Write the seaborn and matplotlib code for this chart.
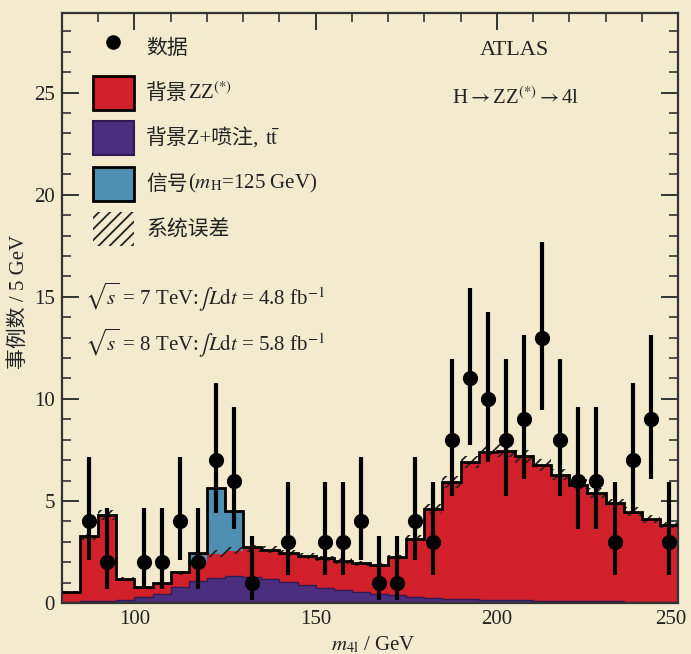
"""
H→ZZ(*)→4l 四轻子不变质量分布（ATLAS 风格）复现
运行：python3 plot.py  ->  out.png
"""
import matplotlib
matplotlib.use("Agg")
import matplotlib.pyplot as plt
import numpy as np
import pandas as pd
import seaborn as sns
from matplotlib.lines import Line2D
from matplotlib.patches import Patch
from matplotlib.ticker import MultipleLocator
from matplotlib.transforms import ScaledTranslation

# ---- 数据（每 5 GeV 一个 bin，80–250 GeV） ----
BIN_LO, BIN_HI, BIN_WIDTH = 80, 250, 5

# 背景 Z+喷注, tt̄（最下层）
ZJETS = np.array([
    0.07, 0.08, 0.10, 0.15, 0.31, 0.45, 0.80, 1.08, 1.24, 1.33,
    1.28, 1.20, 1.04, 0.90, 0.75, 0.66, 0.55, 0.45, 0.38, 0.31,
    0.24, 0.21, 0.18, 0.16, 0.14, 0.13, 0.12, 0.11, 0.10, 0.09,
    0.08, 0.07, 0.06, 0.06,
])
# 背景 ZZ(*)
ZZ = np.array([
    0.45, 3.22, 4.20, 1.03, 0.46, 0.53, 0.69, 0.87, 1.18, 1.23,
    1.38, 1.40, 1.40, 1.40, 1.43, 1.40, 1.40, 1.41, 1.85, 2.84,
    4.35, 5.71, 6.72, 7.24, 7.31, 7.05, 6.63, 6.17, 5.70, 5.29,
    4.82, 4.41, 4.06, 3.76,
])
# 信号 mH = 125 GeV
SIGNAL = np.array([
    0.00, 0.00, 0.00, 0.00, 0.00, 0.00, 0.03, 0.52, 3.20, 1.96,
    0.08, 0.00, 0.00, 0.00, 0.00, 0.00, 0.00, 0.00, 0.00, 0.00,
    0.00, 0.00, 0.00, 0.00, 0.00, 0.00, 0.00, 0.00, 0.00, 0.00,
    0.00, 0.00, 0.00, 0.00,
])
# 系统误差（背景总和的半宽）
SYST = np.array([
    0.05, 0.20, 0.25, 0.08, 0.06, 0.07, 0.10, 0.13, 0.16, 0.17,
    0.17, 0.17, 0.16, 0.15, 0.14, 0.13, 0.13, 0.12, 0.14, 0.18,
    0.24, 0.28, 0.30, 0.32, 0.32, 0.30, 0.28, 0.27, 0.25, 0.23,
    0.21, 0.20, 0.18, 0.17,
])

# 数据点（只画非零 bin）
DATA_M = np.array([
    87.5, 92.5, 102.5, 107.5, 112.5, 117.5, 122.5, 127.5, 132.5, 142.5,
    152.5, 157.5, 162.5, 167.5, 172.5, 177.5, 182.5, 187.5, 192.5, 197.5,
    202.5, 207.5, 212.5, 217.5, 222.5, 227.5, 232.5, 237.5, 242.5, 247.5,
])
DATA_N = np.array([
    4, 2, 2, 2, 4, 2, 7, 6, 1, 3,
    3, 3, 4, 1, 1, 4, 3, 8, 11, 10,
    8, 9, 13, 8, 6, 6, 3, 7, 9, 3,
])
DATA_LO = np.array([
    2.09, 0.71, 0.71, 0.71, 2.09, 0.71, 4.42, 3.62, 0.17, 1.37,
    1.37, 1.37, 2.09, 0.17, 0.17, 2.09, 1.37, 5.23, 7.73, 6.89,
    5.23, 6.06, 9.44, 5.23, 3.62, 3.62, 1.37, 4.42, 6.06, 1.37,
])
DATA_HI = np.array([
    7.16, 4.64, 4.64, 4.64, 7.16, 4.64, 10.77, 9.58, 3.30, 5.92,
    5.92, 5.92, 7.16, 3.30, 3.30, 7.16, 5.92, 11.95, 15.42, 14.27,
    11.95, 13.11, 17.70, 11.95, 9.58, 9.58, 5.92, 10.77, 13.11, 5.92,
])

# 图例：中文部分用普通文本，公式部分紧接其后
LEGEND_CN = ["数据", "背景", "背景Z+喷注,", "信号", "系统误差"]
LEGEND_MATH = [None, "ZZ$^{(*)}$", r"t$\bar{\mathrm{t}}$", r"($m_{\mathrm{H}}$=125 GeV)", None]

BG_COLOR = "#F4EBCF"
RED = "#D2202A"
PURPLE = "#4B2E7E"
PURPLE_EDGE = "#2E1A55"
BLUE = "#4F90B2"
INK = "#222222"


def setup_plot() -> None:
    sns.set_theme(style="ticks")
    plt.rcParams.update(
        {
            "font.family": ["Liberation Serif", "Noto Sans CJK SC"],
            "mathtext.fontset": "stix",
            "axes.unicode_minus": False,
            "hatch.linewidth": 1.3,
            "hatch.color": INK,
            "figure.facecolor": BG_COLOR,
            "axes.facecolor": BG_COLOR,
            "savefig.facecolor": BG_COLOR,
        }
    )


def main() -> None:
    setup_plot()
    edges = np.arange(BIN_LO, BIN_HI + BIN_WIDTH, BIN_WIDTH)
    centers = edges[:-1] + BIN_WIDTH / 2

    fig = plt.figure(figsize=(6.91, 6.54), dpi=100)
    ax = fig.add_axes([62 / 691, 1 - 603 / 654, 616 / 691, 590 / 654])

    # 堆叠直方图：seaborn 的 stack 把 hue_order 中最后一项放在最下面
    comp = pd.DataFrame(
        {
            "m4l": np.tile(centers, 3),
            "events": np.concatenate([SIGNAL, ZZ, ZJETS]),
            "component": np.repeat(["signal", "zz", "zjets"], len(centers)),
        }
    )
    sns.histplot(
        data=comp, x="m4l", weights="events", hue="component",
        hue_order=["signal", "zz", "zjets"],
        palette={"signal": BLUE, "zz": RED, "zjets": PURPLE},
        bins=edges.tolist(), multiple="stack", element="step", fill=True,
        alpha=1, linewidth=0, legend=False, ax=ax,
    )

    ax.stairs(ZJETS, edges, baseline=None, color=PURPLE_EDGE, linewidth=1.0, zorder=2)

    # 系统误差带
    bg = ZJETS + ZZ
    lo = np.append(bg - SYST, (bg - SYST)[-1])
    hi = np.append(bg + SYST, (bg + SYST)[-1])
    ax.fill_between(
        edges, lo, hi, step="post", facecolor="none", edgecolor=INK,
        hatch="///", linewidth=0, zorder=3,
    )

    total = bg + SIGNAL
    ax.stairs(total, edges, baseline=None, color="black", linewidth=2.0, zorder=4)

    # 数据点 + Poisson 误差
    ax.errorbar(
        DATA_M, DATA_N, yerr=[DATA_N - DATA_LO, DATA_HI - DATA_N],
        fmt="none", ecolor="black", elinewidth=3.0, capsize=0, zorder=5,
    )
    sns.scatterplot(x=DATA_M, y=DATA_N, color="black", s=120, linewidth=0, ax=ax, zorder=6)

    # 坐标轴
    ax.set_xlim(BIN_LO, BIN_HI)
    ax.set_ylim(0, 28.9)
    ax.xaxis.set_major_locator(MultipleLocator(50))
    ax.xaxis.set_minor_locator(MultipleLocator(10))
    ax.yaxis.set_major_locator(MultipleLocator(5))
    ax.yaxis.set_minor_locator(MultipleLocator(1))
    ax.tick_params(which="both", direction="in", top=True, right=True,
                   colors="#333333", labelcolor=INK, labelsize=15)
    ax.tick_params(which="major", length=12, width=1.4, pad=5)
    ax.tick_params(which="minor", length=6.5, width=1.2)
    for sp in ax.spines.values():
        sp.set_color("#333333")
        sp.set_linewidth(1.6)

    # 最右的 250 稍向左移，免得被图边裁掉
    fig.canvas.draw()
    last = [t for t in ax.get_xticklabels() if t.get_text() == "250"]
    for t in last:
        t.set_transform(t.get_transform() + ScaledTranslation(-5 / 72, 0, fig.dpi_scale_trans))

    ax.set_xlabel(r"$m_{\mathrm{4l}}$ / GeV", fontsize=15, color=INK)
    ax.set_ylabel("事例数 / 5 GeV", fontsize=15, color=INK)
    ax.xaxis.set_label_coords(0.506, -0.053)
    ax.yaxis.set_label_coords(-0.054, 0.51)

    # 图例
    handles = [
        Line2D([], [], marker="o", ls="none", color="black", markersize=9.5),
        Patch(facecolor=RED, edgecolor="black", linewidth=2),
        Patch(facecolor=PURPLE, edgecolor=PURPLE_EDGE, linewidth=1.5),
        Patch(facecolor=BLUE, edgecolor="black", linewidth=2),
        Patch(facecolor="none", edgecolor=INK, hatch="///", linewidth=0),
    ]
    leg = ax.legend(
        handles, LEGEND_CN, loc="upper left", bbox_to_anchor=(0.0503, 0.9712),
        frameon=False, fontsize=15, handlelength=1.95, handleheight=2.13,
        labelspacing=0.56, handletextpad=0.6, borderpad=0, borderaxespad=0,
        labelcolor=INK,
    )
    for txt, extra in zip(leg.get_texts(), LEGEND_MATH):
        if extra is None:
            continue
        pad = 4 if extra.startswith("t$") else 0
        ax.annotate(
            extra, xy=(1, 0), xycoords=txt, xytext=(pad, 0), textcoords="offset points",
            ha="left", va="bottom", fontsize=15, color=INK, zorder=7,
        )

    # 文字标注
    ax.text(0.734, 0.937, "ATLAS", transform=ax.transAxes, fontsize=16,
            ha="center", va="center", color=INK)
    ax.text(0.737, 0.856, r"H$\rightarrow$ZZ$^{(*)}$$\rightarrow$4l",
            transform=ax.transAxes, fontsize=15, ha="center", va="center", color=INK)
    ax.text(0.037, 0.519, r"$\sqrt{s}$ = 7 TeV:$\int L\mathrm{d}t$ = 4.8 fb$^{-1}$",
            transform=ax.transAxes, fontsize=15, ha="left", va="center", color=INK)
    ax.text(0.037, 0.442, r"$\sqrt{s}$ = 8 TeV:$\int L\mathrm{d}t$ = 5.8 fb$^{-1}$",
            transform=ax.transAxes, fontsize=15, ha="left", va="center", color=INK)

    fig.savefig("out.png", dpi=100, facecolor=BG_COLOR)
    plt.close(fig)


if __name__ == "__main__":
    main()
